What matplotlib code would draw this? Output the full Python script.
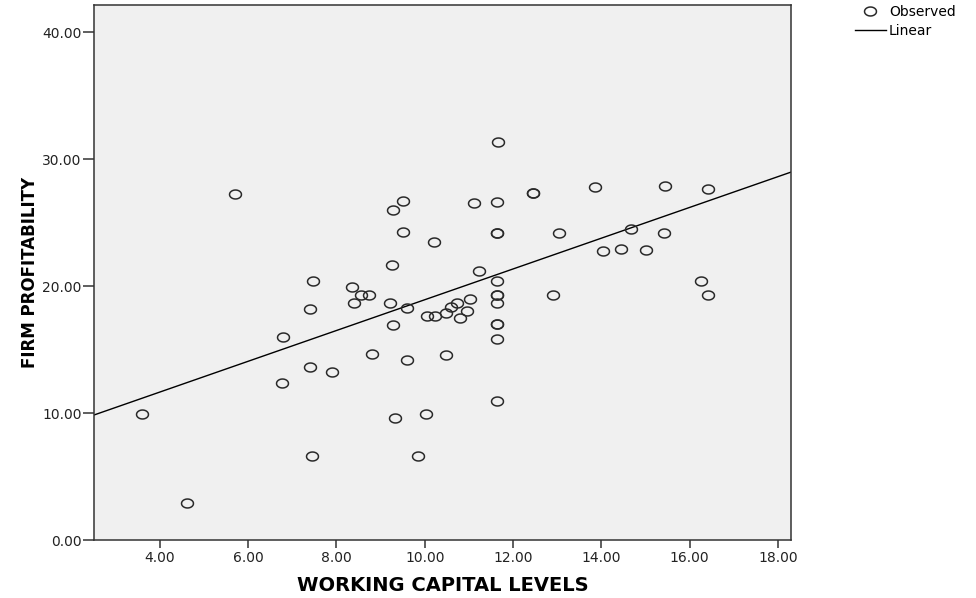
import numpy as np
import matplotlib
matplotlib.use('Agg')
from matplotlib import pyplot as plt
from matplotlib.lines import Line2D

# observed points (duplicates drawn twice)
working_capital = [
    5.70, 9.50, 9.29, 9.51, 10.22, 9.26, 11.66, 12.46, 12.46, 11.11,
    11.63, 13.86, 15.44, 16.41, 11.63, 11.63, 13.05, 14.68, 15.43, 14.03,
    14.44, 15.01, 11.23, 7.46, 8.36, 8.55, 8.73, 8.40, 9.21, 7.41,
    9.60, 10.06, 10.23, 10.48, 10.59, 10.73, 10.80, 9.29, 6.79, 8.80,
    9.59, 10.48, 7.41, 7.89, 6.76, 3.60, 9.32, 10.03, 7.44, 9.85,
    4.62, 11.63, 11.63, 11.63, 11.63, 11.63, 11.63, 11.63, 11.63, 12.90,
    16.27, 16.41, 11.02, 10.96,
]
profitability = [
    27.27, 26.72, 26.01, 24.25, 23.46, 21.63, 31.36, 27.35, 27.35, 26.56,
    26.64, 27.80, 27.90, 27.64, 24.17, 24.17, 24.17, 24.46, 24.15, 22.73,
    22.94, 22.83, 21.17, 20.42, 19.95, 19.29, 19.29, 18.69, 18.69, 18.19,
    18.24, 17.64, 17.64, 17.90, 18.37, 18.69, 17.45, 16.95, 15.98, 14.62,
    14.17, 14.59, 13.65, 13.20, 12.34, 9.92, 9.63, 9.92, 6.61, 6.61,
    2.89, 20.42, 19.29, 19.29, 18.69, 16.98, 16.98, 15.80, 10.97, 19.29,
    20.42, 19.29, 18.95, 18.06,
]

# fitted line as drawn in the reference
linear_intercept = 6.81
linear_slope = 1.211

x_ticks = [4, 6, 8, 10, 12, 14, 16, 18]
y_ticks = [0, 10, 20, 30, 40]

FRAME = '#333333'

fig = plt.figure(figsize=(9.76, 5.98), dpi=100)
ax = fig.add_axes([94 / 976, 58 / 598, 697 / 976, 535 / 598])
ax.set_facecolor('#f0f0f0')

# slightly wide ellipse like the SPSS marker
t = np.linspace(0, 2 * np.pi, 41)
ring = list(zip(np.cos(t), 0.75 * np.sin(t)))

ax.plot(working_capital, profitability, linestyle='none', marker=ring,
        markersize=8.6, markerfacecolor='none', markeredgecolor='#2a2a2a',
        markeredgewidth=1.1, zorder=3)

xlim = (2.505, 18.30)
xs = np.array(xlim)
ax.plot(xs, linear_intercept + linear_slope * xs, color='black', lw=1.0, zorder=2)

ax.set_xlim(*xlim)
ax.set_ylim(0, 42.13)
ax.set_xticks(x_ticks)
ax.set_yticks(y_ticks)
ax.set_xticklabels(['%.2f' % v for v in x_ticks])
ax.set_yticklabels(['%.2f' % v for v in y_ticks])

for s in ax.spines.values():
    s.set_color(FRAME)
    s.set_linewidth(1.1)
ax.tick_params(axis='x', direction='out', length=6, width=1.1, color=FRAME,
               labelsize=10, labelcolor='#222222', pad=2)
ax.tick_params(axis='y', direction='out', length=8, width=1.1, color=FRAME,
               labelsize=10, labelcolor='#222222', pad=0.8)

ax.set_xlabel('WORKING CAPITAL LEVELS', fontsize=14, fontweight='bold', labelpad=8)
ax.set_ylabel('FIRM PROFITABILITY', fontsize=12, fontweight='bold', labelpad=2)

handles = [
    Line2D([], [], linestyle='none', marker=ring, markersize=8.6,
           markerfacecolor='none', markeredgecolor='#2a2a2a', markeredgewidth=1.1),
    Line2D([], [], color='black', lw=1.0),
]
fig.legend(handles, ['Observed', 'Linear'], loc='upper left',
           bbox_to_anchor=(855 / 976, 593 / 598), frameon=False, fontsize=10,
           borderpad=0, borderaxespad=0, handlelength=2.2, handletextpad=0.25,
           labelspacing=0.35)

fig.savefig('out.png', dpi=100)
